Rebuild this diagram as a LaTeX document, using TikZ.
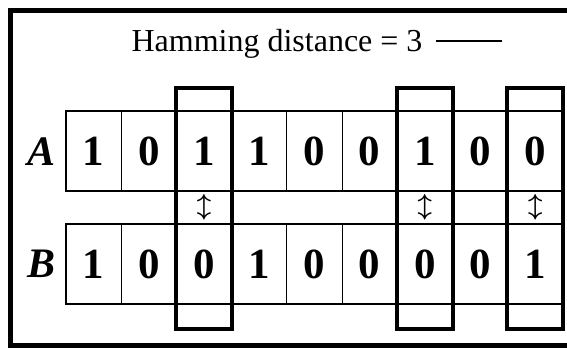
\documentclass[tikz,border=0pt]{standalone}
\usepackage{fontspec}
\setmainfont{Liberation Serif}
\usetikzlibrary{calc}
\begin{document}
\begin{tikzpicture}[x=1pt,y=-1pt,
  cell/.style={draw, line width=0.9pt, minimum width=55.2pt, minimum height=79pt, inner sep=0pt, anchor=north west, font=\fontsize{43}{43}\selectfont\bfseries},
  rowlab/.style={font=\fontsize{42}{42}\selectfont\bfseries\itshape},
  rowframe/.style={draw, line width=1.8pt},
  diffbox/.style={draw, line width=4pt},
  frame/.style={draw, line width=5pt},
  swap/.style={font=\fontsize{25}{25}\selectfont\boldmath, inner sep=0pt}]
\useasboundingbox (0,0) rectangle (567,351);
\clip (0,0) rectangle (567,351);
% title
\node[anchor=base, font=\fontsize{32}{32}\selectfont, inner sep=0pt] (title) at (277,51) {Hamming distance = 3};
\coordinate (l1) at (436,41);
\coordinate (l2) at (502,41);
\draw[line width=2.4pt] (l1) -- (l2);
% rows
\foreach \v [count=\i from 0] in {1,0,1,1,0,0,1,0,0} {
  \node[cell] (a\i) at ({65.5+55.2*\i},111) {\v};
}
\foreach \v [count=\i from 0] in {1,0,0,1,0,0,0,0,1} {
  \node[cell] (b\i) at ({65.5+55.2*\i},224) {\v};
}
\draw[rowframe] (a0.north west) rectangle (a8.south east);
\draw[rowframe] (b0.north west) rectangle (b8.south east);
\node[rowlab] (A) at (42,152) {A};
\node[rowlab] (B) at (42,264) {B};
% difference markers and boxes
\foreach \i in {2,6,8} {
  \node[swap] (s\i) at ($(a\i.south)!0.5!(b\i.north)$) {$\updownarrow$};
  \draw[diffbox] ([yshift=23pt]a\i.north west) rectangle ([yshift=-25pt]b\i.south east);
}
% outer frame
\draw[frame] (10,10) rectangle (600,345);
\end{tikzpicture}
\end{document}
